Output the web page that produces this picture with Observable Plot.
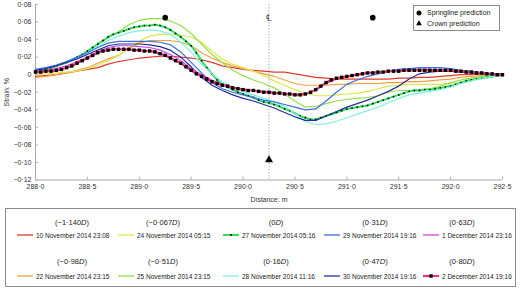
<!DOCTYPE html>
<html><head><meta charset="utf-8">
<script src="https://cdn.jsdelivr.net/npm/d3@7"></script>
<script src="https://cdn.jsdelivr.net/npm/@observablehq/plot@0.6"></script>
<style>
body{margin:0;background:#fff;font-family:"Liberation Sans",Arial,sans-serif;color:#222;}
#wrap{position:relative;width:520px;height:288px;overflow:hidden;}
#wrap svg.plot{position:absolute;left:0;top:0;}
.box{position:absolute;border:1px solid #8a8a8a;background:#fff;box-sizing:border-box;}
.lt{position:absolute;font-size:6.5px;white-space:nowrap;line-height:9px;}
.sw{position:absolute;}
</style></head><body><div id="wrap"></div>
<script>
// ---------- data ----------
const dist05 = d3.range(0, 91).map(i => +(288 + i * 0.05).toFixed(2)); // 0.05 m measurement grid
const dist10 = d3.range(0, 46).map(i => +(288 + i * 0.1).toFixed(1));  // 0.1 m measurement grid

const seriesDates = ["10 November 2014 23:08","22 November 2014 23:15","24 November 2014 05:15","25 November 2014 23:15","27 November 2014 05:16","28 November 2014 11:16","29 November 2014 19:16","30 November 2014 19:16","1 December 2014 23:16","2 December 2014 19:16"];
const seriesD = ["−1·140","−0·98","−0·067","−0·51","0","0·16","0·31","0·47","0·63","0·80"];

const s10Nov = [-.002,-.001,.000,.002,.004,.006,.008,.012,.015,.017,
 .019,.020,.021,.021,.020,.019,.017,.014,.010,.008,
 .006,.005,.004,.003,.003,.001,-.001,-.003,-.004,-.005,
 -.005,-.005,-.005,-.005,-.005,-.004,-.004,-.003,-.003,-.002,
 -.001,.000,.000,.001,.001,.001];
const s22Nov = [-.003,-.002,.000,.002,.005,.008,.013,.018,.022,.030,
 .036,.039,.039,.039,.037,.033,.025,.019,.014,.010,
 .007,.004,.001,-.002,-.006,-.010,-.012,-.012,-.012,-.011,
 -.011,-.010,-.010,-.010,-.009,-.009,-.008,-.008,-.007,-.006,
 -.005,-.003,-.002,-.001,.000,.000];
const s24Nov = [.000,.001,.002,.003,.004,.007,.011,.016,.022,.030,
 .038,.044,.046,.046,.045,.043,.037,.027,.018,.012,
 .008,.004,-.001,-.007,-.012,-.017,-.021,-.024,-.024,-.023,
 -.022,-.021,-.019,-.016,-.013,-.012,-.011,-.011,-.011,-.011,
 -.010,-.009,-.007,-.004,-.002,-.001];
const s25Nov = [.004,.006,.009,.013,.019,.026,.034,.042,.049,.057,
 .062,.064,.064,.061,.056,.047,.035,.023,.014,.005,
 -.001,-.006,-.010,-.015,-.022,-.030,-.037,-.036,-.033,-.030,
 -.028,-.027,-.026,-.024,-.020,-.018,-.018,-.017,-.016,-.013,
 -.009,-.006,-.004,-.002,-.001,.000];
const s27Nov = [.005,.006,.007,.008,.010,.012,.014,.017,.020,.023,
 .027,.031,.035,.039,.043,.046,.048,.050,.052,.054,
 .055,.056,.056,.057,.056,.054,.051,.047,.043,.038,
 .033,.025,.016,.008,.001,-.006,-.011,-.014,-.017,-.020,
 -.022,-.024,-.026,-.029,-.031,-.032,-.034,-.036,-.039,-.041,
 -.044,-.047,-.049,-.051,-.051,-.049,-.047,-.045,-.043,-.041,
 -.039,-.038,-.037,-.036,-.035,-.033,-.031,-.029,-.027,-.025,
 -.023,-.021,-.019,-.018,-.018,-.017,-.017,-.016,-.015,-.014,
 -.013,-.011,-.009,-.007,-.006,-.005,-.004,-.003,-.002,-.001,
 -.001];
const s28Nov = [.005,.007,.010,.014,.019,.025,.032,.039,.044,.048,
 .050,.051,.050,.046,.037,.026,.012,.001,-.008,-.014,
 -.019,-.023,-.027,-.031,-.036,-.044,-.053,-.057,-.056,-.053,
 -.049,-.045,-.041,-.037,-.032,-.027,-.023,-.021,-.019,-.017,
 -.014,-.010,-.007,-.004,-.002,-.001];
const s29Nov = [.006,.008,.011,.015,.020,.025,.031,.036,.038,.038,
 .038,.038,.037,.034,.026,.014,.002,-.009,-.016,-.020,
 -.023,-.026,-.029,-.031,-.034,-.037,-.040,-.039,-.030,-.020,
 -.011,-.006,-.002,.001,.004,.006,.007,.008,.008,.008,
 .007,.005,.004,.002,.001,.000];
const s30Nov = [.005,.007,.010,.014,.018,.023,.028,.033,.035,.035,
 .035,.034,.032,.028,.020,.009,-.003,-.012,-.018,-.023,
 -.027,-.030,-.034,-.038,-.043,-.048,-.052,-.052,-.047,-.042,
 -.037,-.033,-.029,-.024,-.019,-.013,-.005,.001,.003,.004,
 .004,.003,.002,.001,.000,.000];
const s1Dec = [.004,.005,.007,.010,.015,.020,.026,.031,.033,.033,
 .032,.031,.028,.023,.016,.007,.000,-.006,-.011,-.014,
 -.016,-.018,-.019,-.020,-.021,-.022,-.022,-.018,-.010,-.005,
 -.002,.000,.002,.003,.004,.005,.005,.006,.006,.005,
 .005,.004,.003,.002,.001,.000];
const s2Dec = [.003,.003,.004,.004,.005,.006,.008,.010,.013,.016,
 .019,.022,.025,.027,.028,.029,.029,.029,.029,.028,
 .028,.027,.027,.026,.024,.022,.019,.016,.013,.009,
 .005,.001,-.002,-.005,-.008,-.010,-.012,-.013,-.015,-.016,
 -.017,-.018,-.018,-.019,-.020,-.020,-.021,-.021,-.022,-.022,
 -.023,-.023,-.022,-.020,-.017,-.013,-.009,-.006,-.004,-.003,
 -.002,-.001,.000,.001,.002,.002,.003,.003,.004,.004,
 .004,.005,.005,.005,.005,.005,.005,.005,.005,.005,
 .005,.004,.004,.003,.003,.002,.002,.001,.001,.000,
 .000];

const springlineX = [289.25, 291.25];
const springlineY = [0.065, 0.065];
const crownX = [290.25];
const crownY = [-0.097];
const centerlineX = 290.25;

const xTicks = [288, 288.5, 289, 289.5, 290, 290.5, 291, 291.5, 292, 292.5];
const yTicks = [-0.12, -0.10, -0.08, -0.06, -0.04, -0.02, 0, 0.02, 0.04, 0.06, 0.08];

// ---------- styling ----------
const seriesValues = [s10Nov, s22Nov, s24Nov, s25Nov, s27Nov, s28Nov, s29Nov, s30Nov, s1Dec, s2Dec];
const seriesGrid =   [dist10, dist10, dist10, dist10, dist05, dist10, dist10, dist10, dist10, dist05];
const colors = ["#e23b2e","#f1a23f","#dde84e","#96e04a","#2fe05e","#84efe6","#3c6fe0","#22309e","#cf45dc","#ea3473"];
const widths = [1.2,1.2,1.2,1.2,2,1.2,1.2,1.2,1.2,2.2];
const markers = [null,null,null,null,"dot",null,null,null,null,"square"];

const fmt = (v, k) => Math.abs(v) < 1e-9 ? "0" : v.toFixed(k).replace("-", "−").replace(".", "·");

const rows = seriesValues.map((vals, i) => vals.map((v, j) => ({d: seriesGrid[i][j], v, s: i})));

const marks = [
  Plot.ruleX([centerlineX], {stroke: "#9a9a9a", strokeWidth: 0.8, strokeDasharray: "1.5,1.5"}),
  Plot.ruleY([yTicks[0]], {stroke: "#a8a8a8"}),
  Plot.ruleX([xTicks[0]], {stroke: "#a8a8a8"})
];
rows.forEach((r, i) => {
  marks.push(Plot.line(r, {x: "d", y: "v", stroke: colors[i], strokeWidth: widths[i]}));
  if (markers[i] === "dot") marks.push(Plot.dot(r, {x: "d", y: "v", r: 0.9, fill: "black"}));
  if (markers[i] === "square") marks.push(Plot.dot(r, {x: "d", y: "v", r: 1.9, symbol: "square", fill: "black"}));
});
marks.push(
  Plot.text([centerlineX], {x: d => d, frameAnchor: "top", dy: 9, text: () => "℄", fontSize: 10, fill: "#222", stroke: "white", strokeWidth: 2}),
  Plot.dot(springlineX, {x: d => d, y: (d, i) => springlineY[i], r: 2.8, fill: "black"}),
  Plot.dot(crownX, {x: d => d, y: (d, i) => crownY[i], r: 3, symbol: "triangle", fill: "black"}),
  Plot.axisX({ticks: xTicks, tickFormat: v => fmt(v, 1), tickSize: -3, tickPadding: 7, stroke: "#b0b0b0",
    label: "Distance: m", labelAnchor: "center", labelArrow: "none", labelOffset: 22, fontSize: 7}),
  Plot.axisY({ticks: yTicks, tickFormat: v => fmt(v, 2), tickSize: -3, tickPadding: 7, stroke: "#b0b0b0",
    label: "Strain: %", labelAnchor: "center", labelArrow: "none", labelOffset: 31, fontSize: 7})
);

const chart = Plot.plot({
  width: 520, height: 205,
  marginLeft: 35, marginRight: 18, marginTop: 4, marginBottom: 25.5,
  x: {domain: [288, 292.5]},
  y: {domain: [-0.12, 0.08]},
  style: {fontFamily: "'Liberation Sans', Arial, sans-serif", fontSize: "7px", color: "#333", background: "transparent"},
  marks
});
const wrap = document.getElementById("wrap");
wrap.appendChild(chart);

// ---------- top-right legend ----------
const tr = document.createElement("div");
tr.className = "box";
Object.assign(tr.style, {left: "413px", top: "5px", width: "87px", height: "26px"});
wrap.appendChild(tr);
const predLabels = ["Springline prediction", "Crown prediction"];
predLabels.forEach((t, i) => {
  const y = 12.5 + i * 10.5;
  const sw = document.createElementNS("http://www.w3.org/2000/svg", "svg");
  sw.setAttribute("width", 8); sw.setAttribute("height", 8);
  sw.setAttribute("class", "sw");
  sw.style.left = "415px"; sw.style.top = (y - 4) + "px";
  sw.innerHTML = i === 0 ? '<circle cx="4" cy="4" r="2.5" fill="black"/>' : '<path d="M4,1.2 L6.8,6.2 L1.2,6.2 Z" fill="black"/>';
  wrap.appendChild(sw);
  const tx = document.createElement("div");
  tx.className = "lt"; tx.textContent = t;
  tx.style.fontSize = "7px";
  tx.style.left = "427px"; tx.style.top = (y - 4.5) + "px";
  wrap.appendChild(tx);
});

// ---------- bottom legend ----------
const bl = document.createElement("div");
bl.className = "box";
Object.assign(bl.style, {left: "5px", top: "208px", width: "511px", height: "79px"});
wrap.appendChild(bl);
const colText = [36, 137, 242, 343, 442];
const colLabel = [72, 163, 276, 375, 462];
const rowLabelY = [222.5, 261.5];
const rowEntryY = [235, 276];
seriesDates.forEach((date, i) => {
  const c = Math.floor(i / 2), r = i % 2;
  const lab = document.createElement("div");
  lab.className = "lt";
  lab.style.fontSize = "7.5px";
  lab.innerHTML = "(" + seriesD[i] + "<i>D</i>)";
  lab.style.left = colLabel[c] + "px"; lab.style.top = (rowLabelY[r] - 4.5) + "px";
  lab.style.transform = "translateX(-50%)";
  wrap.appendChild(lab);
  const sw = document.createElementNS("http://www.w3.org/2000/svg", "svg");
  sw.setAttribute("width", 16); sw.setAttribute("height", 6);
  sw.setAttribute("class", "sw");
  sw.style.left = (colText[c] - 19) + "px"; sw.style.top = (rowEntryY[r] - 3) + "px";
  let inner = `<line x1="0" x2="16" y1="3" y2="3" stroke="${colors[i]}" stroke-width="${Math.max(1.3, widths[i])}"/>`;
  if (markers[i] === "dot") inner += '<circle cx="8" cy="3" r="1" fill="black"/>';
  if (markers[i] === "square") inner += '<rect x="6.3" y="1.3" width="3.4" height="3.4" fill="black"/>';
  sw.innerHTML = inner;
  wrap.appendChild(sw);
  const tx = document.createElement("div");
  tx.className = "lt"; tx.textContent = date;
  tx.style.left = colText[c] + "px"; tx.style.top = (rowEntryY[r] - 4.5) + "px";
  wrap.appendChild(tx);
});
</script></body></html>
